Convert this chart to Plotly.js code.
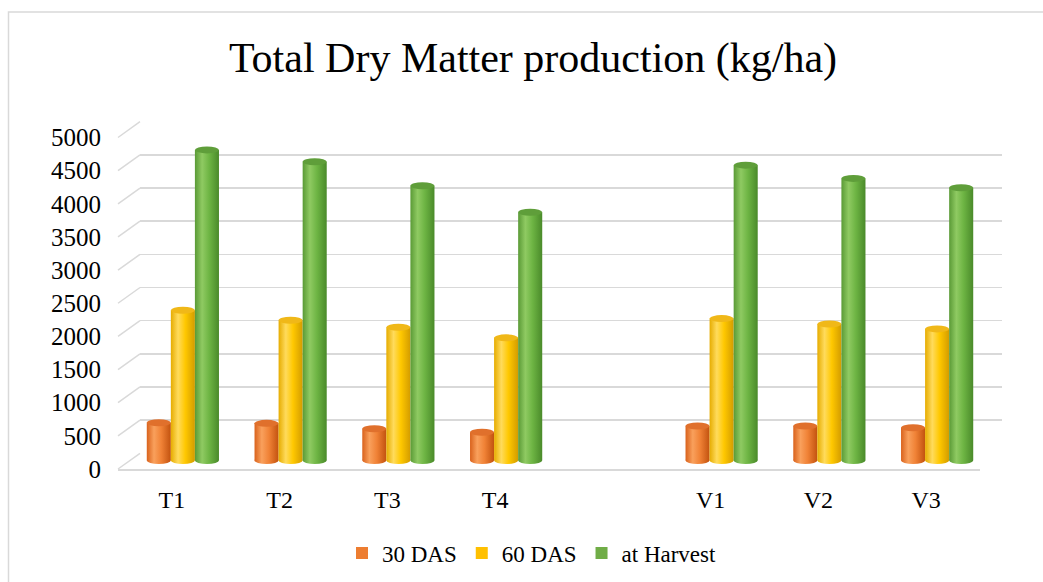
<!DOCTYPE html>
<html>
<head>
<meta charset="utf-8">
<script src="https://cdn.plot.ly/plotly-3.0.1.min.js"></script>
<style>html,body{margin:0;padding:0;background:#fff;}#chart{width:1043px;height:582px;}</style>
</head>
<body>
<div id="chart"></div>
<script>
// ---- data ----
const categories = ['T1', 'T2', 'T3', 'T4', ' ', 'V1', 'V2', 'V3'];
const das30 = [570, 560, 480, 425, null, 520, 520, 495];
const das60 = [2265, 2115, 2010, 1850, null, 2140, 2060, 1985];
const harvest = [4685, 4505, 4145, 3745, null, 4455, 4255, 4115];
const seriesNames = ['30 DAS', '60 DAS', 'at Harvest'];
const yTicks = [0, 500, 1000, 1500, 2000, 2500, 3000, 3500, 4000, 4500, 5000];
const yMax = 5000;

// ---- geometry (pseudo 3D: front plane, mid plane for bars, back wall) ----
const W = 1043, H = 582;
const px = v => v / W;
const py = v => (H - v) / H;
const front = { x: [px(118), px(980)], y: [py(469), py(137.5)] };
const mid   = { x: [px(129), px(991)], y: [py(460.5), py(129)] };
const back  = { x: [px(140), px(1002)], y: [py(453.3), py(121.7)] };

const colors = ['#ED7D31', '#FFC000', '#70AD47'];
const font = 'Liberation Serif';
const gridCol = '#d9d9d9';

const seriesData = [das30, das60, harvest];
const traces = seriesData.map((vals, i) => ({
  type: 'bar', name: seriesNames[i], x: categories, y: vals,
  xaxis: 'x3', yaxis: 'y3', cliponaxis: false,
  marker: { color: colors[i], line: { width: 0 } },
  hoverinfo: 'x+y+name'
}));
// register front and back subplots
traces.push({ type: 'scatter', x: [categories[0]], y: [null], xaxis: 'x', yaxis: 'y', showlegend: false, hoverinfo: 'skip', mode: 'markers' });
traces.push({ type: 'scatter', x: [categories[0]], y: [null], xaxis: 'x2', yaxis: 'y2', showlegend: false, hoverinfo: 'skip', mode: 'markers' });

const yAt = (plane, v) => plane.y[0] + (v / yMax) * (plane.y[1] - plane.y[0]);
const shapes = yTicks.map(v => ({
  type: 'line', xref: 'paper', yref: 'paper', layer: 'below',
  x0: front.x[0], y0: yAt(front, v), x1: back.x[0], y1: yAt(back, v),
  line: { color: gridCol, width: 1.5 }
}));
shapes.push({
  type: 'rect', xref: 'paper', yref: 'paper', layer: 'below',
  x0: px(8.5), x1: 1.05, y0: -0.05, y1: py(12),
  line: { color: gridCol, width: 1.5 }, fillcolor: 'rgba(0,0,0,0)'
});

const catAxis = {
  type: 'category', categoryorder: 'array', categoryarray: categories,
  range: [-0.5, categories.length - 0.5], fixedrange: true
};

const layout = {
  width: W, height: H,
  margin: { l: 0, r: 0, t: 0, b: 0, pad: 0 },
  paper_bgcolor: '#ffffff', plot_bgcolor: 'rgba(0,0,0,0)',
  font: { family: font, color: '#000' },
  title: {
    text: 'Total Dry Matter production (kg/ha)',
    font: { family: font, size: 42, color: '#000' },
    x: px(533), xref: 'container', xanchor: 'center',
    y: 1 - 57 / H, yref: 'container', yanchor: 'middle'
  },
  barmode: 'group', bargap: 0.33, bargroupgap: 0,
  showlegend: true,
  legend: {
    orientation: 'h', x: px(342), xanchor: 'left', y: py(553), yanchor: 'middle',
    font: { family: font, size: 23, color: '#000' }, bgcolor: 'rgba(0,0,0,0)', traceorder: 'normal'
  },
  xaxis: Object.assign({}, catAxis, {
    domain: front.x, anchor: 'y', showline: true, linecolor: gridCol, linewidth: 1.5,
    showgrid: false, zeroline: false, ticks: '', ticklabelstandoff: 9,
    tickfont: { family: font, size: 24, color: '#000' }
  }),
  yaxis: {
    domain: front.y, anchor: 'x', range: [0, yMax], tickvals: yTicks, ticktext: yTicks.map(String),
    showgrid: false, zeroline: false, showline: false, ticks: '', ticklabelstandoff: 16,
    tickfont: { family: font, size: 25, color: '#000' }, fixedrange: true
  },
  xaxis2: Object.assign({}, catAxis, {
    domain: back.x, anchor: 'y2', showticklabels: false, showgrid: false, zeroline: false, showline: false, ticks: ''
  }),
  yaxis2: {
    domain: back.y, anchor: 'x2', range: [0, yMax], tickvals: yTicks,
    showticklabels: false, showgrid: true, gridcolor: gridCol, gridwidth: 1.5,
    zeroline: false, showline: false, ticks: '', fixedrange: true
  },
  xaxis3: Object.assign({}, catAxis, {
    domain: mid.x, anchor: 'y3', visible: false
  }),
  yaxis3: {
    domain: mid.y, anchor: 'x3', range: [0, yMax], visible: false, fixedrange: true
  },
  shapes: shapes
};

Plotly.newPlot('chart', traces, layout, { displayModeBar: false, staticPlot: true }).then(gd => {
  // cylinder-like shading via SVG gradients on the library-drawn bars
  const NS = 'http://www.w3.org/2000/svg';
  const svg = gd.querySelector('.main-svg');
  let defs = svg.querySelector('defs');
  if (!defs) { defs = document.createElementNS(NS, 'defs'); svg.insertBefore(defs, svg.firstChild); }
  const shade = [
    ['#d9621c', '#f9a05c', '#f08236', '#c2520f'],
    ['#e6ac00', '#ffdb5c', '#ffc800', '#d39c00'],
    ['#5a9a36', '#8fca62', '#6db443', '#4a8a2a']
  ];
  const capCol = ['#e0702c', '#f0b818', '#5f9e3a'];
  const offs = ['0', '0.3', '0.6', '1'];
  shade.forEach((stops, i) => {
    const g = document.createElementNS(NS, 'linearGradient');
    g.setAttribute('id', 'cyl' + i);
    g.setAttribute('x1', '0'); g.setAttribute('y1', '0'); g.setAttribute('x2', '1'); g.setAttribute('y2', '0');
    stops.forEach((c, k) => {
      const s = document.createElementNS(NS, 'stop');
      s.setAttribute('offset', offs[k]); s.setAttribute('stop-color', c);
      g.appendChild(s);
    });
    defs.appendChild(g);
  });
  const ry = 3.5;
  const barTraces = gd.querySelectorAll('.barlayer .trace');
  barTraces.forEach((t, i) => {
    t.querySelectorAll('.point').forEach(pt => {
      const p = pt.querySelector('path');
      if (!p) return;
      p.style.fill = 'url(#cyl' + i + ')';
      const bb = p.getBBox();
      if (!bb.width || !bb.height) return;
      const cx = bb.x + bb.width / 2, rx = bb.width / 2;
      const bottom = document.createElementNS(NS, 'ellipse');
      bottom.setAttribute('cx', cx); bottom.setAttribute('cy', bb.y + bb.height);
      bottom.setAttribute('rx', rx); bottom.setAttribute('ry', ry);
      bottom.style.fill = 'url(#cyl' + i + ')';
      pt.insertBefore(bottom, p);
      const top = document.createElementNS(NS, 'ellipse');
      top.setAttribute('cx', cx); top.setAttribute('cy', bb.y);
      top.setAttribute('rx', rx); top.setAttribute('ry', ry);
      top.style.fill = capCol[i];
      pt.appendChild(top);
    });
  });
});
</script>
</body>
</html>
